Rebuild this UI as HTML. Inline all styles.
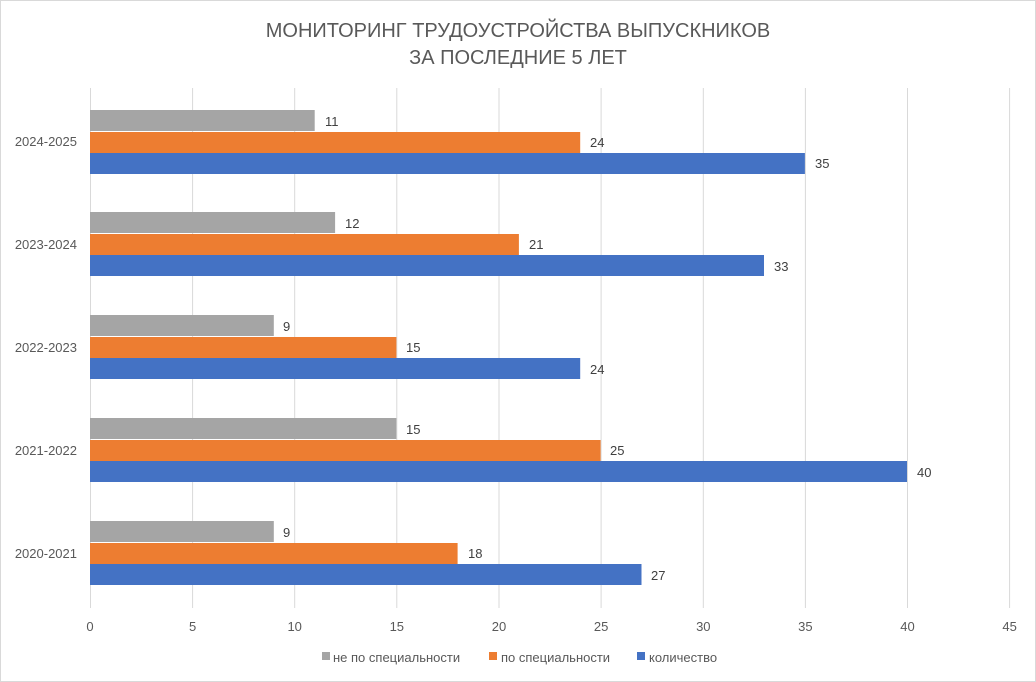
<!DOCTYPE html>
<html><head><meta charset="utf-8"><style>
body{margin:0;background:#fff;}
svg{display:block;font-family:"Liberation Sans",sans-serif;}
</style></head><body>
<svg width="1036" height="682" viewBox="0 0 1036 682">
<rect x="0.5" y="0.5" width="1035" height="681" fill="#fff" stroke="#d9d9d9"/>
<text x="518" y="37" text-anchor="middle" font-size="20" fill="#595959">МОНИТОРИНГ ТРУДОУСТРОЙСТВА ВЫПУСКНИКОВ</text>
<text x="518" y="64" text-anchor="middle" font-size="20" fill="#595959">ЗА ПОСЛЕДНИЕ 5 ЛЕТ</text>
<g stroke="#d9d9d9" stroke-width="1">
<line x1="192.6" y1="88" x2="192.6" y2="608"/><line x1="294.7" y1="88" x2="294.7" y2="608"/>
<line x1="396.8" y1="88" x2="396.8" y2="608"/><line x1="499" y1="88" x2="499" y2="608"/>
<line x1="601.1" y1="88" x2="601.1" y2="608"/><line x1="703.3" y1="88" x2="703.3" y2="608"/>
<line x1="805.4" y1="88" x2="805.4" y2="608"/><line x1="907.5" y1="88" x2="907.5" y2="608"/>
<line x1="1009.6" y1="88" x2="1009.6" y2="608"/>
<line x1="90.5" y1="88" x2="90.5" y2="608"/>
</g>
<g font-size="13" fill="#595959" text-anchor="middle">
<text x="90" y="631">0</text><text x="192.6" y="631">5</text><text x="294.7" y="631">10</text><text x="396.8" y="631">15</text><text x="499" y="631">20</text><text x="601.1" y="631">25</text><text x="703.3" y="631">30</text><text x="805.4" y="631">35</text><text x="907.5" y="631">40</text><text x="1009.6" y="631">45</text>
</g>
<g font-size="13" fill="#595959" text-anchor="end">
<text x="77" y="146">2024-2025</text><text x="77" y="249">2023-2024</text><text x="77" y="352">2022-2023</text><text x="77" y="455">2021-2022</text><text x="77" y="558">2020-2021</text>
</g>
<g font-size="13" fill="#404040">
<rect x="90" y="110" width="224.7" height="21" fill="#a5a5a5"/><text x="325" y="126">11</text>
<rect x="90" y="132" width="490.2" height="21" fill="#ed7d31"/><text x="590" y="147">24</text>
<rect x="90" y="153" width="714.9" height="21" fill="#4472c4"/><text x="815" y="168">35</text>
<rect x="90" y="212" width="245.1" height="21" fill="#a5a5a5"/><text x="345" y="228">12</text>
<rect x="90" y="234" width="428.9" height="21" fill="#ed7d31"/><text x="529" y="249">21</text>
<rect x="90" y="255" width="674" height="21" fill="#4472c4"/><text x="774" y="271">33</text>
<rect x="90" y="315" width="183.8" height="21" fill="#a5a5a5"/><text x="283" y="331">9</text>
<rect x="90" y="337" width="306.4" height="21" fill="#ed7d31"/><text x="406" y="352">15</text>
<rect x="90" y="358" width="490.2" height="21" fill="#4472c4"/><text x="590" y="374">24</text>
<rect x="90" y="418" width="306.4" height="21" fill="#a5a5a5"/><text x="406" y="434">15</text>
<rect x="90" y="440" width="510.6" height="21" fill="#ed7d31"/><text x="610" y="455">25</text>
<rect x="90" y="461" width="817" height="21" fill="#4472c4"/><text x="917" y="477">40</text>
<rect x="90" y="521" width="183.8" height="21" fill="#a5a5a5"/><text x="283" y="537">9</text>
<rect x="90" y="543" width="367.6" height="21" fill="#ed7d31"/><text x="468" y="558">18</text>
<rect x="90" y="564" width="551.5" height="21" fill="#4472c4"/><text x="651" y="580">27</text>
</g>
<g font-size="13" fill="#595959">
<rect x="322" y="652" width="8" height="8" fill="#a5a5a5"/><text x="333" y="662">не по специальности</text>
<rect x="489" y="652" width="8" height="8" fill="#ed7d31"/><text x="501" y="662">по специальности</text>
<rect x="637" y="652" width="8" height="8" fill="#4472c4"/><text x="649" y="662">количество</text>
</g>
</svg>
</body></html>
